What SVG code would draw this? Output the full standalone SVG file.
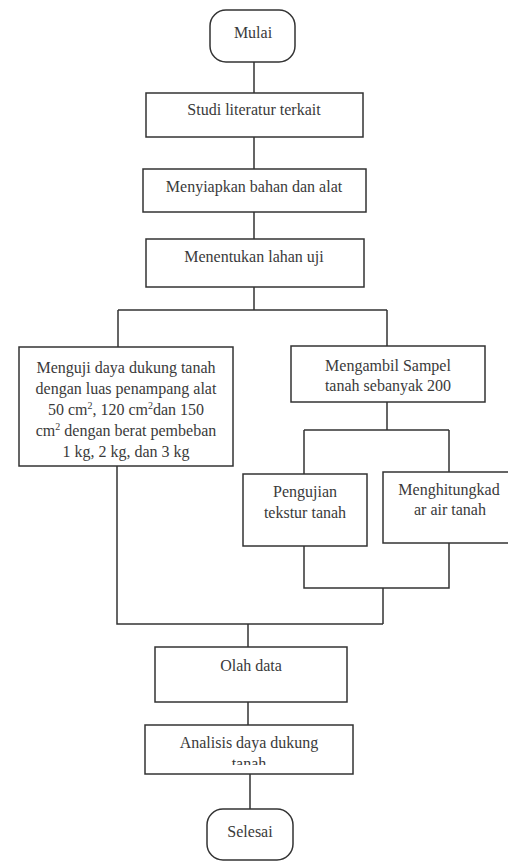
<svg xmlns="http://www.w3.org/2000/svg" width="508" height="861" viewBox="0 0 508 861">
<defs>
<style>
.box{fill:#fff;stroke:#333;stroke-width:1.5}
.c{fill:none;stroke:#333;stroke-width:1.5}
text{font-family:'Liberation Serif','Times New Roman',Times,serif;font-size:16px;fill:#3a3a3a;text-anchor:middle}
</style>
<clipPath id="clipTanah"><rect x="145" y="750" width="208" height="15"/></clipPath>
</defs>
<rect width="508" height="861" fill="#fff"/>
<g id="connectors">
<path class="c" d="M254 62V93M254 137V169M254 212V239M254 287V310M118 310H387M118 310V347M387 310V346M387 402V430M304 430H449M304 430V474M449 430V472M304 546V588H449V543M383 588V624M117 466V624H383M248 624V647M248 702V725M250 774V809"/>
</g>
<g id="mulai">
<rect class="box" x="210" y="10" width="85" height="52" rx="16"/>
<text x="253" y="38">Mulai</text>
</g>
<g id="studi">
<rect class="box" x="146" y="93" width="217" height="44"/>
<text x="254" y="115">Studi literatur terkait</text>
</g>
<g id="menyiapkan">
<rect class="box" x="143" y="169" width="223" height="43"/>
<text x="254" y="192">Menyiapkan bahan dan alat</text>
</g>
<g id="menentukan">
<rect class="box" x="146" y="239" width="218" height="48"/>
<text x="254" y="262">Menentukan lahan uji</text>
</g>
<g id="menguji">
<rect class="box" x="19" y="347" width="214" height="119"/>
<text x="126" y="373">Menguji daya dukung tanah</text>
<text x="126" y="394">dengan luas penampang alat</text>
<text x="126" y="415">50 cm<tspan dy="-6" font-size="10">2</tspan><tspan dy="6">, 120 cm</tspan><tspan dy="-6" font-size="10">2</tspan><tspan dy="6">dan 150</tspan></text>
<text x="126" y="436">cm<tspan dy="-6" font-size="10">2</tspan><tspan dy="6"> dengan berat pembeban</tspan></text>
<text x="126" y="457">1 kg, 2 kg, dan 3 kg</text>
</g>
<g id="mengambil">
<rect class="box" x="291" y="346" width="194" height="56"/>
<text x="388" y="371">Mengambil Sampel</text>
<text x="388" y="391">tanah sebanyak 200</text>
</g>
<g id="pengujian">
<rect class="box" x="243" y="474" width="124" height="72"/>
<text x="305" y="497">Pengujian</text>
<text x="305" y="518">tekstur tanah</text>
</g>
<g id="menghitung">
<rect class="box" x="383" y="472" width="135" height="71"/>
<text x="449" y="495">Menghitungkad</text>
<text x="450" y="515">ar air tanah</text>
</g>
<g id="olah">
<rect class="box" x="155" y="647" width="192" height="55"/>
<text x="251" y="671">Olah data</text>
</g>
<g id="analisis">
<rect class="box" x="145" y="725" width="208" height="49"/>
<text x="249" y="748">Analisis daya dukung</text>
<text x="249" y="769" clip-path="url(#clipTanah)">tanah</text>
</g>
<g id="selesai">
<rect class="box" x="207" y="809" width="86" height="51" rx="16"/>
<text x="250" y="837">Selesai</text>
</g>
</svg>
